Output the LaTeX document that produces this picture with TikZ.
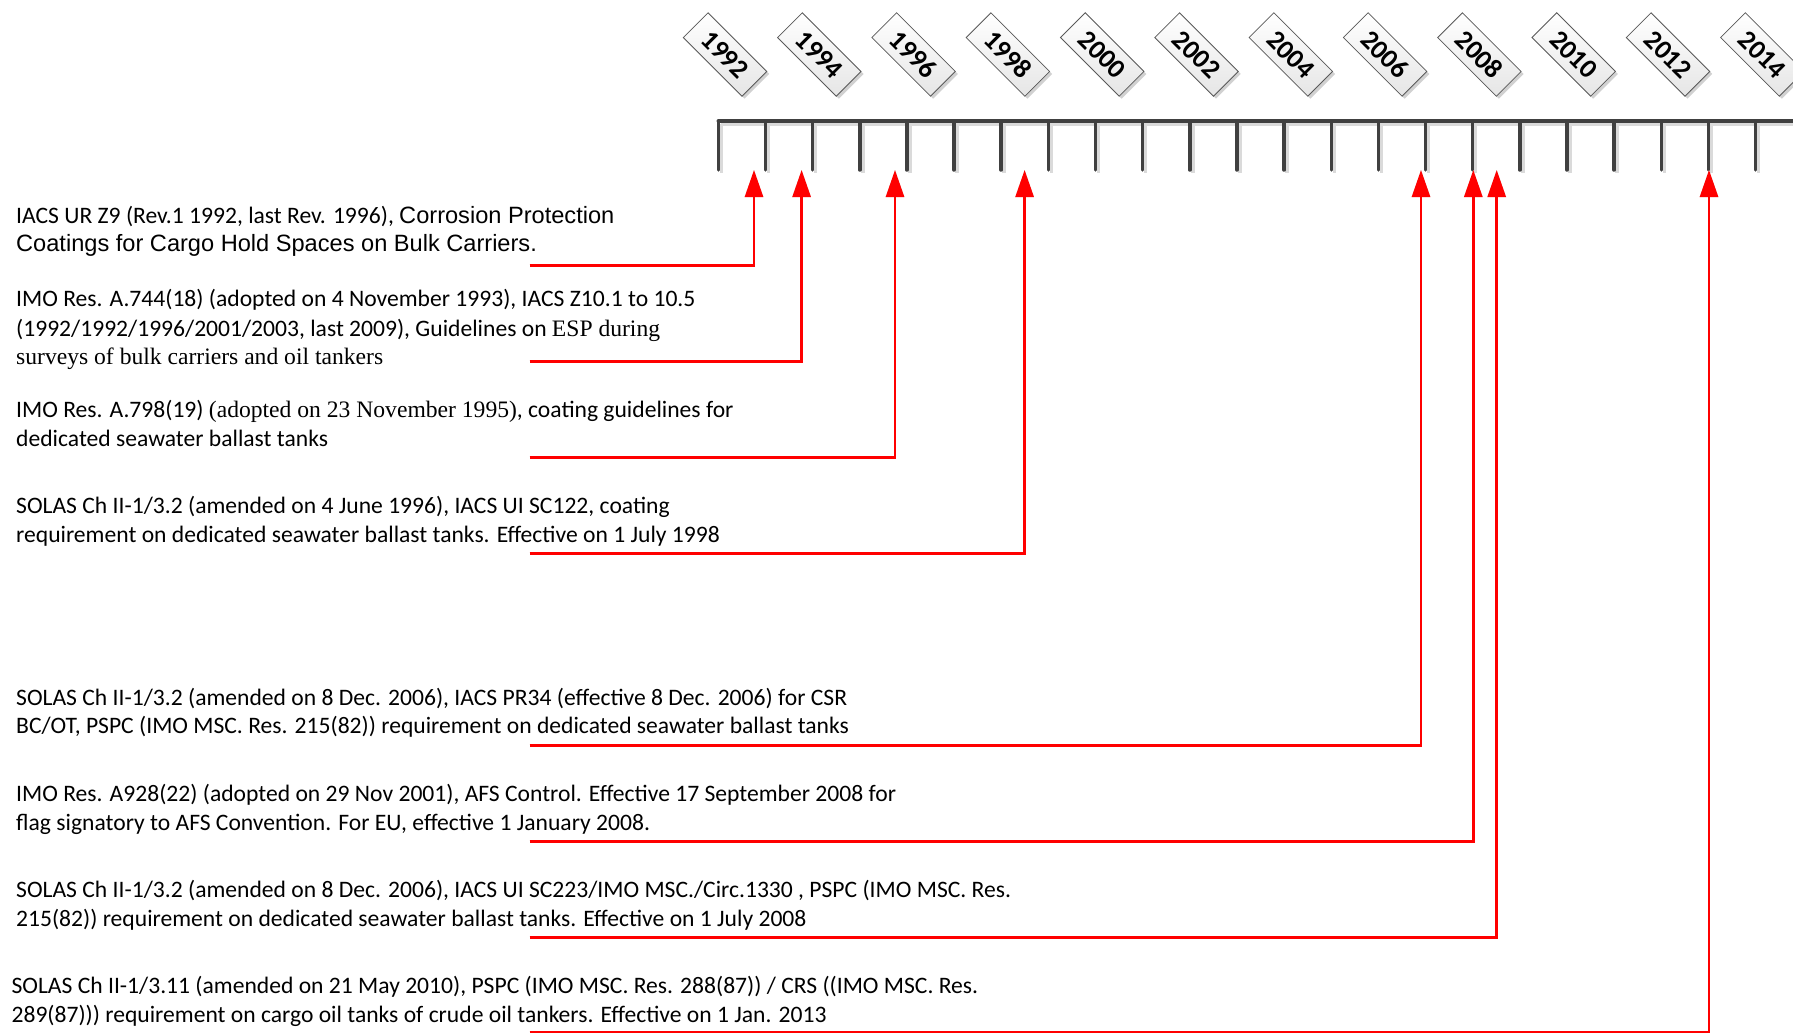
\documentclass[tikz,border=0pt]{standalone}
\usepackage{fontspec}
\setmainfont{Carlito}
\newfontfamily\arialf{Liberation Sans}
\newfontfamily\timesf{Liberation Serif}
\usetikzlibrary{arrows.meta,shadows}
\definecolor{axisgray}{HTML}{404040}
\definecolor{shadowgray}{HTML}{DADADA}
\definecolor{arrowred}{HTML}{FF0000}
\tikzset{
 axisline/.style={draw=axisgray, line width=3.5pt, line cap=round},
 axisshadow/.style={draw=shadowgray, line width=3.5pt},
 yearbox/.style={draw=black!65, line width=0.8pt, rotate=-45, minimum width=83pt, minimum height=35pt, inner sep=0pt, top color=white, bottom color=black!10, font=\fontsize{27}{27}\selectfont\bfseries, drop shadow={shadow xshift=2.5pt, shadow yshift=-2.5pt, fill=black!18, opacity=1}},
 desc/.style={anchor=base west, inner sep=0pt, font=\fontsize{23.6}{28}\selectfont},
 redarrow/.style={draw=arrowred, line width=2.6pt, -{Triangle[width=18pt,length=27pt]}},
 redshadow/.style={draw=shadowgray, line width=2.6pt, -{Triangle[width=18pt,length=27pt]}, shift={(3,3)}}
}
\begin{document}
\begin{tikzpicture}[x=1pt,y=-1pt]
\useasboundingbox (0,0) rectangle (1793,1033);
% axis shadow and ticks
\draw[axisshadow] (721.3,124) -- (1800,124);
\foreach \i in {0,...,22} {
  \draw[axisshadow] ({721.3+47.15*\i},124) -- ({721.3+47.15*\i},173);
}
\draw[axisline] (718.3,121) -- (1800,121);
\foreach \i in {0,...,22} {
  \draw[axisline] ({718.3+47.15*\i},121) -- ({718.3+47.15*\i},170);
}
% year labels
\foreach \k [evaluate=\k as \yr using int(1992+2*\k)] in {0,...,11} {
  \node[yearbox] (y\yr) at ({725+94.3*\k},54.5) {\yr};
}
% arrow ends
\coordinate (t1) at (754,170);
\coordinate (t2) at (801.6,170);
\coordinate (t3) at (895,170);
\coordinate (t4) at (1024.6,170);
\coordinate (t5) at (1421,170);
\coordinate (t6) at (1473.3,170);
\coordinate (t7) at (1496.7,170);
\coordinate (t8) at (1709,170);
\coordinate (s1) at (529.5,265.3);
\coordinate (s2) at (529.5,361.3);
\coordinate (s3) at (529.5,457.4);
\coordinate (s4) at (529.5,553.5);
\coordinate (s5) at (529.5,745.6);
\coordinate (s6) at (529.5,841.6);
\coordinate (s7) at (529.5,937.7);
\coordinate (s8) at (529.5,1032);
\foreach \n in {1,...,8} {
  \draw[redshadow] (s\n) -| (t\n);
}
\foreach \n in {1,...,8} {
  \draw[redarrow] (s\n) -| (t\n);
}
% texts
\node[desc] (l11) at (16,223.5) {IACS UR Z9 (Rev.1 1992, last Rev. 1996), {\arialf Corrosion Protection}};
\node[desc] (l12) at (16,251) {\arialf Coatings for Cargo Hold Spaces on Bulk Carriers.};
\node[desc] (l21) at (16,306.5) {IMO Res. A.744(18) (adopted on 4 November 1993), IACS Z10.1 to 10.5};
\node[desc] (l22) at (16,336) {(1992/1992/1996/2001/2003, last 2009), Guidelines on {\timesf ESP during}};
\node[desc] (l23) at (16,364.5) {\timesf surveys of bulk carriers and oil tankers};
\node[desc] (l31) at (16,417.5) {IMO Res. A.798(19) {\timesf (adopted on 23 November 1995)}, coating guidelines for};
\node[desc] (l32) at (16,446) {dedicated seawater ballast tanks};
\node[desc] (l41) at (16,513.5) {SOLAS Ch II-1/3.2 (amended on 4 June 1996), IACS UI SC122, coating};
\node[desc] (l42) at (16,542) {requirement on dedicated seawater ballast tanks. Effective on 1 July 1998};
\node[desc] (l51) at (16,705) {SOLAS Ch II-1/3.2 (amended on 8 Dec. 2006), IACS PR34 (effective 8 Dec. 2006) for CSR};
\node[desc] (l52) at (16,733.3) {BC/OT, PSPC (IMO MSC. Res. 215(82)) requirement on dedicated seawater ballast tanks};
\node[desc] (l61) at (16,801) {IMO Res. A928(22) (adopted on 29 Nov 2001), AFS Control. Effective 17 September 2008 for};
\node[desc] (l62) at (16,830.5) {flag signatory to AFS Convention. For EU, effective 1 January 2008.};
\node[desc] (l71) at (16,897) {SOLAS Ch II-1/3.2 (amended on 8 Dec. 2006), IACS UI SC223/IMO MSC./Circ.1330 , PSPC (IMO MSC. Res.};
\node[desc] (l72) at (16,926.5) {215(82)) requirement on dedicated seawater ballast tanks. Effective on 1 July 2008};
\node[desc] (l81) at (11.4,993) {SOLAS Ch II-1/3.11 (amended on 21 May 2010), PSPC (IMO MSC. Res. 288(87)) / CRS ((IMO MSC. Res.};
\node[desc] (l82) at (11.4,1022.5) {289(87))) requirement on cargo oil tanks of crude oil tankers. Effective on 1 Jan. 2013};
\end{tikzpicture}
\end{document}
